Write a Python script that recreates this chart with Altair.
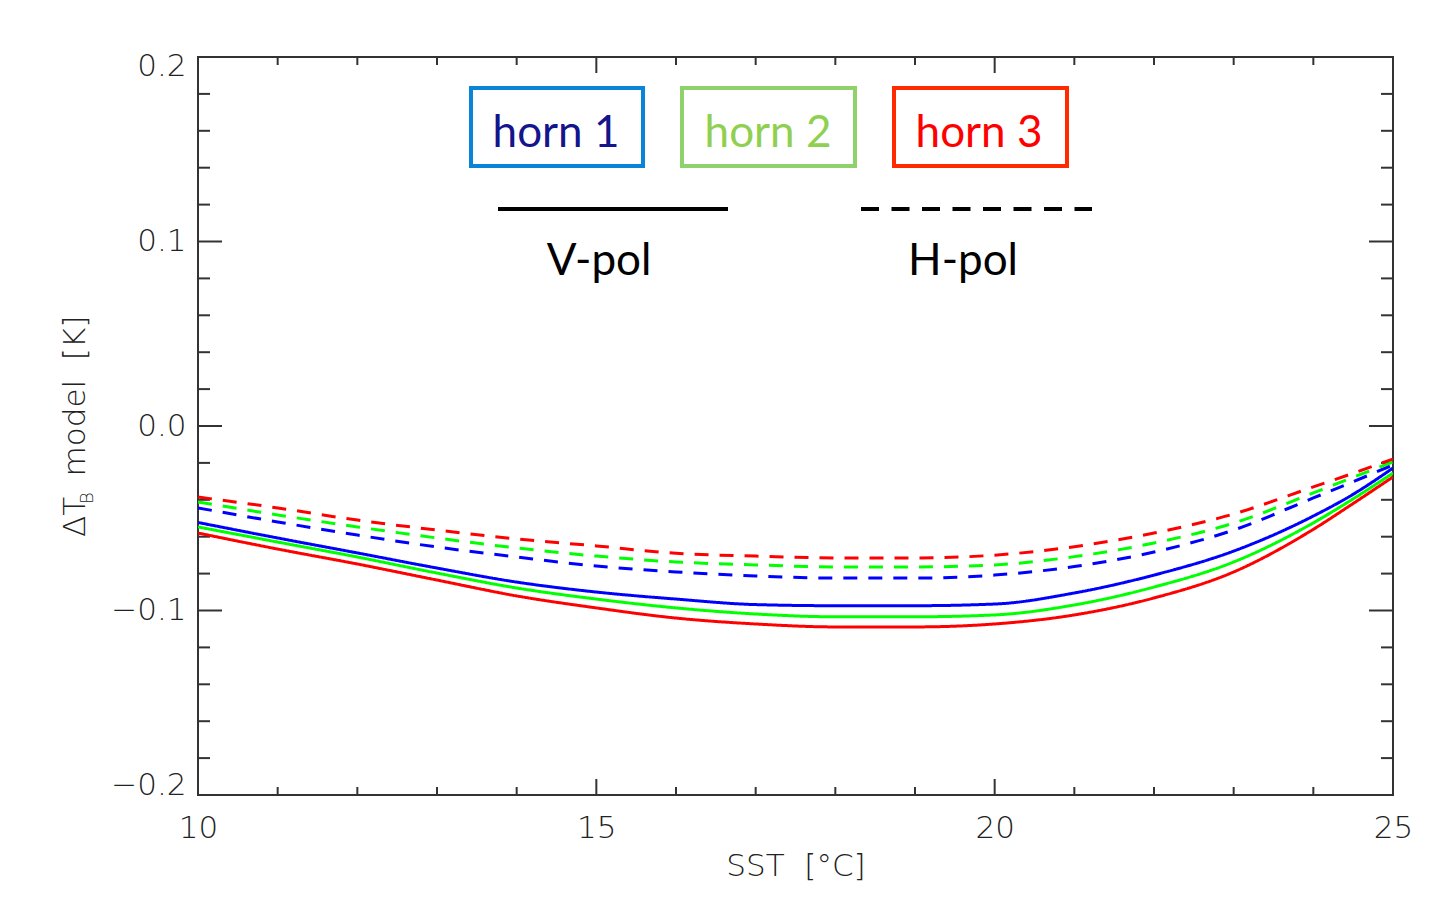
import altair as alt
import pandas as pd

# ---------------- data ----------------
sst = [10, 11, 12, 13, 14, 15, 16, 17, 18, 19, 20, 21, 22, 23, 24, 24.5, 25]

horn1_v = [-0.0523, -0.0607, -0.0688, -0.0770, -0.0846, -0.0900, -0.0938, -0.0968, -0.0974,
           -0.0974, -0.0965, -0.0905, -0.0808, -0.0678, -0.0488, -0.0370, -0.0228]
horn2_v = [-0.0547, -0.0629, -0.0710, -0.0797, -0.0878, -0.0938, -0.0986, -0.1019, -0.1034,
           -0.1034, -0.1024, -0.0970, -0.0873, -0.0737, -0.0525, -0.0395, -0.0255]
horn3_v = [-0.0580, -0.0667, -0.0748, -0.0835, -0.0921, -0.0986, -0.1041, -0.1073, -0.1089,
           -0.1089, -0.1073, -0.1024, -0.0932, -0.0791, -0.0560, -0.0420, -0.0276]
horn1_h = [-0.0444, -0.0520, -0.0591, -0.0656, -0.0710, -0.0759, -0.0791, -0.0813, -0.0824,
           -0.0824, -0.0808, -0.0762, -0.0683, -0.0564, -0.0390, -0.0302, -0.0211]
horn2_h = [-0.0412, -0.0482, -0.0547, -0.0607, -0.0661, -0.0705, -0.0737, -0.0753, -0.0764,
           -0.0764, -0.0753, -0.0708, -0.0634, -0.0526, -0.0363, -0.0278, -0.0195]
horn3_h = [-0.0385, -0.0444, -0.0510, -0.0564, -0.0612, -0.0650, -0.0690, -0.0705, -0.0715,
           -0.0715, -0.0700, -0.0654, -0.0580, -0.0477, -0.0330, -0.0256, -0.0179]

horns = ["horn 1", "horn 2", "horn 3"]
pols = ["V-pol", "H-pol"]
line_colors = ["#0000ff", "#00ff00", "#ff0000"]

x_major = [10, 15, 20, 25]
x_minor = [11, 12, 13, 14, 16, 17, 18, 19, 21, 22, 23, 24]
y_major = [-0.2, -0.1, 0.0, 0.1, 0.2]
y_minor = [-0.18, -0.16, -0.14, -0.12, -0.08, -0.06, -0.04, -0.02,
           0.02, 0.04, 0.06, 0.08, 0.12, 0.14, 0.16, 0.18]

series = {
    ("horn 1", "V-pol"): horn1_v, ("horn 2", "V-pol"): horn2_v, ("horn 3", "V-pol"): horn3_v,
    ("horn 1", "H-pol"): horn1_h, ("horn 2", "H-pol"): horn2_h, ("horn 3", "H-pol"): horn3_h,
}
rows = []
for (h, p), vals in series.items():
    for s, v in zip(sst, vals):
        rows.append({"sst": s, "dtb": v, "horn": h, "pol": p, "key": h + " " + p})
df = pd.DataFrame(rows)

W, H = 1195, 738
FONT = "DejaVu Sans"
TXT = "#222222"

xscale = alt.Scale(domain=[10, 25], nice=False, zero=False)
yscale = alt.Scale(domain=[-0.2, 0.2], nice=False, zero=False)

lines = alt.Chart(df).mark_line(strokeWidth=3, interpolate="monotone", clip=True).encode(
    x=alt.X("sst:Q", scale=xscale,
            axis=alt.Axis(values=x_major, format="d", ticks=False, domain=False, grid=False,
                          labelFlush=False, labelPadding=18, title="SST\u00a0\u00a0[°C]",
                          titlePadding=8)),
    y=alt.Y("dtb:Q", scale=yscale,
            axis=alt.Axis(values=y_major, format=".1f", ticks=False, domain=False, grid=False,
                          labelFlush=True, labelFlushOffset=6, labelPadding=12, title=None)),
    color=alt.Color("horn:N", scale=alt.Scale(domain=horns, range=line_colors), legend=None),
    strokeDash=alt.StrokeDash("pol:N", scale=alt.Scale(domain=pols, range=[[1, 0], [14, 11]]),
                              legend=None),
    detail="key:N",
    order=alt.Order("sst:Q"),
)

# ---------------- inward ticks on all four sides ----------------
dxM = pd.DataFrame({"sst": x_major})
dxm = pd.DataFrame({"sst": x_minor})
dyM = pd.DataFrame({"dtb": y_major})
dym = pd.DataFrame({"dtb": y_minor})
tick_style = dict(color="#333333", strokeWidth=2)

def xticks(d, ln):
    bot = alt.Chart(d).mark_rule(**tick_style).encode(
        x="sst:Q", y=alt.value(H), y2=alt.value(H - ln))
    top = alt.Chart(d).mark_rule(**tick_style).encode(
        x="sst:Q", y=alt.value(0), y2=alt.value(ln))
    return [bot, top]

def yticks(d, ln):
    left = alt.Chart(d).mark_rule(**tick_style).encode(
        y="dtb:Q", x=alt.value(0), x2=alt.value(ln))
    right = alt.Chart(d).mark_rule(**tick_style).encode(
        y="dtb:Q", x=alt.value(W), x2=alt.value(W - ln))
    return [left, right]

ticks = xticks(dxM, 16) + xticks(dxm, 8) + yticks(dyM, 24) + yticks(dym, 12)

# ---------------- annotations ----------------
one = pd.DataFrame({"a": [0]})

def text(label, x, y, size, color, font, angle=0, align="center", baseline="alphabetic",
         weight="normal"):
    kw = dict(fontSize=size, color=color, font=font, align=align, baseline=baseline,
              fontWeight=weight)
    if angle:
        kw["angle"] = angle
    return alt.Chart(one).mark_text(**kw).encode(
        x=alt.value(x), y=alt.value(y), text=alt.value(label))

def box(x1, x2, y1, y2, color):
    return alt.Chart(one).mark_rect(fill="white", stroke=color, strokeWidth=4).encode(
        x=alt.value(x1), x2=alt.value(x2), y=alt.value(y1), y2=alt.value(y2))

annot = [
    box(273, 445, 31, 109, "#0a84d6"),
    box(484, 657, 31, 109, "#8fd26c"),
    box(696, 869, 31, 109, "#ff2a00"),
    text("horn 1", 358, 90, 44, "#14148c", "Lato"),
    text("horn 2", 570, 90, 44, "#8fd050", "Lato"),
    text("horn 3", 781, 90, 44, "#ff0000", "Lato"),
    alt.Chart(one).mark_rule(color="black", strokeWidth=4).encode(
        x=alt.value(300), x2=alt.value(530), y=alt.value(152)),
    alt.Chart(one).mark_rule(color="black", strokeWidth=4, strokeDash=[18, 12.5]).encode(
        x=alt.value(663), x2=alt.value(894), y=alt.value(152)),
    text("V-pol", 401, 218, 44, "black", "Lato"),
    text("H-pol", 765, 218, 44, "black", "Lato"),
    # y-axis title: ΔT_B model [K]
    text("ΔT", -113, 460, 31, TXT, FONT, angle=270, weight=200),
    text("B", -105, 441, 18, TXT, FONT, angle=270, weight=200),
    text("model\u00a0\u00a0[K]", -113, 339, 31, TXT, FONT, angle=270, weight=200),
]

chart = alt.layer(*ticks, lines, *annot).properties(
    width=W, height=H,
    autosize=alt.AutoSizeParams(type="none"),
    padding={"left": 190, "top": 49, "right": 38, "bottom": 95},
    background="white",
).configure_view(
    stroke="#333333", strokeWidth=2
).configure_axis(
    labelFont=FONT, labelFontSize=31, labelColor=TXT, labelFontWeight=200,
    titleFont=FONT, titleFontSize=31, titleColor=TXT, titleFontWeight=200,
)

chart.save("out.html", embed_options={"renderer": "svg", "actions": False})
